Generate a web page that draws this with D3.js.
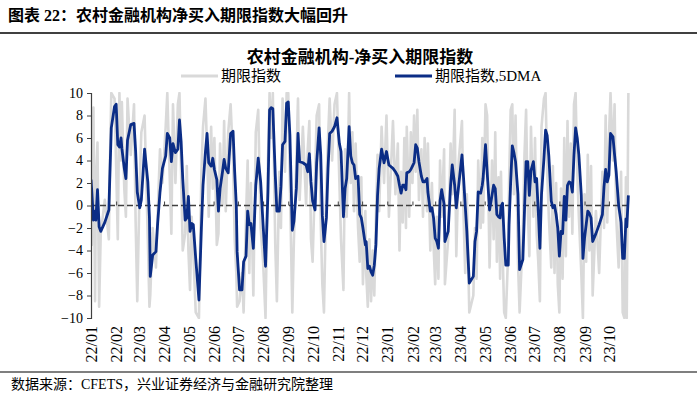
<!DOCTYPE html>
<html>
<head>
<meta charset="utf-8">
<script src="https://cdn.jsdelivr.net/npm/d3@7"></script>
<style>
  body { margin: 0; background: #fff; }
  text { font-family: "Liberation Serif", "Noto Sans CJK SC", serif; }
</style>
</head>
<body>
<svg id="chart" width="697" height="394"></svg>
<script>
// dates of the readings (yy-mm-dd), one line per month
var dates = [
  "22-01-01","22-01-02","22-01-04","22-01-06","22-01-07","22-01-09","22-01-11","22-01-13","22-01-18","22-01-23","22-01-24","22-01-26","22-01-30",
  "22-02-01","22-02-03","22-02-05","22-02-07","22-02-08","22-02-11","22-02-13","22-02-15","22-02-19","22-02-23","22-02-25","22-02-27",
  "22-03-02","22-03-04","22-03-08","22-03-12","22-03-14","22-03-15","22-03-18","22-03-22","22-03-24","22-03-27","22-03-30",
  "22-04-03","22-04-05","22-04-08","22-04-10","22-04-12","22-04-15","22-04-18","22-04-20","22-04-22","22-04-24","22-04-27","22-04-29",
  "22-05-01","22-05-03","22-05-05","22-05-07","22-05-10","22-05-14","22-05-17","22-05-19","22-05-22","22-05-24","22-05-26","22-05-29","22-05-31",
  "22-06-02","22-06-05","22-06-07","22-06-09","22-06-12","22-06-14","22-06-16","22-06-19","22-06-22","22-06-25","22-06-27","22-06-29","22-06-30",
  "22-07-03","22-07-06","22-07-08","22-07-11","22-07-13","22-07-15","22-07-17","22-07-20","22-07-23","22-07-26","22-07-29",
  "22-08-01","22-08-04","22-08-07","22-08-09","22-08-11","22-08-13","22-08-16","22-08-18","22-08-21","22-08-23","22-08-25","22-08-28","22-08-30",
  "22-09-01","22-09-03","22-09-06","22-09-08","22-09-11","22-09-13","22-09-15","22-09-19","22-09-23","22-09-25","22-09-27","22-09-29",
  "22-10-01","22-10-04","22-10-06","22-10-09","22-10-11","22-10-13","22-10-15","22-10-18","22-10-20","22-10-22","22-10-25","22-10-28","22-10-31",
  "22-11-03","22-11-05","22-11-08","22-11-10","22-11-12","22-11-15","22-11-17","22-11-19","22-11-21","22-11-23","22-11-26","22-11-28","22-11-30",
  "22-12-02","22-12-05","22-12-06","22-12-08","22-12-10","22-12-12","22-12-14","22-12-16","22-12-18","22-12-20","22-12-22","22-12-25","22-12-28","22-12-31",
  "23-01-03","23-01-08","23-01-11","23-01-14","23-01-16","23-01-18","23-01-20","23-01-22","23-01-24","23-01-25","23-01-28","23-01-30",
  "23-02-01","23-02-03","23-02-05","23-02-07","23-02-09","23-02-12","23-02-14","23-02-16","23-02-19","23-02-20","23-02-23","23-02-25","23-02-27",
  "23-03-01","23-03-03","23-03-05","23-03-07","23-03-09","23-03-12","23-03-13","23-03-17","23-03-20","23-03-22","23-03-25","23-03-27","23-03-30",
  "23-04-03","23-04-05","23-04-07","23-04-09","23-04-12","23-04-17","23-04-19","23-04-21","23-04-23","23-04-26","23-04-28","23-04-29",
  "23-05-02","23-05-04","23-05-07","23-05-10","23-05-12","23-05-14","23-05-16","23-05-18","23-05-20","23-05-21","23-05-23","23-05-25","23-05-27","23-05-30","23-05-31",
  "23-06-02","23-06-04","23-06-06","23-06-08","23-06-11","23-06-13","23-06-17","23-06-19","23-06-21","23-06-23","23-06-25","23-06-27","23-06-30",
  "23-07-02","23-07-04","23-07-06","23-07-08","23-07-10","23-07-13","23-07-15","23-07-17","23-07-19","23-07-22","23-07-24","23-07-26","23-07-28","23-07-30",
  "23-08-01","23-08-03","23-08-05","23-08-07","23-08-09","23-08-11","23-08-13","23-08-15","23-08-17","23-08-19","23-08-21","23-08-23","23-08-25","23-08-28","23-08-30",
  "23-09-01","23-09-03","23-09-05","23-09-07","23-09-09","23-09-11","23-09-15","23-09-19","23-09-23","23-09-25","23-09-27","23-09-29",
  "23-10-01","23-10-03","23-10-06","23-10-08","23-10-10","23-10-13","23-10-16","23-10-18","23-10-20","23-10-22","23-10-23","23-10-25"
];

// 期限指数 (raw, grey)
var termIndex = [
  5.2,-3.5,8.7,-8.5,2.0,5.6,-9.0,-2.5,0.5,-3.0,2.5,10,9.5,
  3.5,-3.0,10,4.0,9.2,1.5,-1.0,9.5,4.5,9.0,-1.5,-8.5,
  2.0,6.5,8.0,-3.0,-9.0,-8.0,-2.0,-5.5,-1.0,5.0,2.0,
  7.0,10,2.5,-2.5,9.0,2.0,9.0,10,3.0,-4.0,-2.5,3.5,
  -4.0,-7.5,-1.0,-4.0,-9.5,-10,3.0,7.0,9.5,5.0,-1.0,7.0,1.5,
  6.0,-3.5,-2.5,5.5,0.0,7.5,-0.5,6.5,9.0,4.0,-3.0,-6.0,-9.0,
  -8.5,-6.0,-9.5,-1.0,4.0,-6.0,2.0,-8.0,6.5,8.5,-2.0,
  -5.0,-10,4.0,10,6.0,10,-3.5,-8.5,3.0,-2.0,9.5,3.0,10,
  10,2.0,-9.5,-3.0,4.0,9.5,0.5,7.0,0.0,5.0,7.5,-3.0,
  -5.0,2.5,8.0,9.0,-1.5,-7.0,-9.5,2.0,6.0,9.5,4.0,9.0,10,
  2.0,-3.0,-7.5,5.0,-1.0,10,2.0,6.5,-0.5,5.5,-2.0,-5.0,2.5,
  -7.0,-0.5,-6.0,-9.0,-3.0,-8.5,-4.0,-8.0,-1.0,4.5,-0.5,7.0,2.0,8.0,
  -1.0,7.5,1.0,5.5,-4.0,3.0,-1.5,6.0,-2.0,7.0,-1.0,6.5,
  2.0,8.0,3.0,8.5,0.5,5.0,-1.0,6.0,-0.5,5.5,-4.0,2.0,-3.5,
  -7.0,-1.0,-6.5,4.0,-1.0,5.0,-7.0,-3.0,5.5,1.0,8.5,-4.5,4.0,
  7.5,-1.0,-6.0,1.0,-9.5,-8.0,-2.0,-6.5,4.0,-2.0,6.0,-1.5,
  9.0,8.0,-5.5,4.0,-3.0,6.5,-5.0,2.5,-6.5,3.0,-4.0,-9.5,-10,-4.0,2.0,
  8.5,9.0,1.0,8.0,-5.0,-9.5,-2.5,4.5,8.5,0.0,-4.5,7.0,-1.0,
  6.0,-2.5,-5.0,-8.5,7.0,9.5,10,3.0,-1.0,-5.5,3.5,-6.0,2.0,-7.0,
  -9.5,1.5,-6.5,6.0,-4.5,7.5,-1.0,5.5,-2.5,9.0,10,3.0,-1.0,-6.0,-10,
  1.0,-5.0,4.5,-4.0,3.5,-8.0,-0.5,-6.0,3.0,-2.0,8.0,-1.5,
  6.0,10,4.0,9.0,-1.0,-5.5,3.0,-9.5,-10,2.5,-10,10
];

// 期限指数,5DMA (navy)
var termIndexMA = [
  2.3,1.2,-1.3,-0.5,-1.3,1.4,-1.9,-2.3,-1.5,-0.4,2.1,6.9,8.8,
  9.0,5.4,5.2,6.0,5.1,3.3,2.4,5.8,7.2,7.3,4.8,1.2,
  -0.2,0.5,5.0,2.1,-1.1,-6.3,-4.4,-4.1,-1.7,1.2,3.3,
  4.4,6.4,6.0,3.9,5.5,4.7,5.0,7.6,5.7,2.4,-1.3,-1.1,
  0.8,-2.3,-1.6,-1.7,-4.7,-8.4,-2.0,1.8,4.8,6.4,3.8,3.5,4.2,
  3.2,2.3,-0.5,1.5,3.0,4.1,3.3,2.9,6.4,6.6,3.0,0.0,-4.1,
  -7.5,-7.5,-5.0,-4.5,-0.5,-1.7,-1.6,-3.8,1.8,4.2,2.1,
  -1.7,-5.4,1.2,8.5,8.7,8.6,2.7,-0.5,-0.5,1.7,5.4,5.7,9.1,
  9.2,6.3,-2.2,-1.4,1.5,6.4,3.9,3.8,3.6,3.0,4.6,2.1,
  0.4,-0.4,3.8,6.9,4.5,-0.9,-3.2,-1.1,3.3,6.4,6.6,7.0,7.8,
  5.5,4.8,-1.0,1.5,2.4,7.0,4.4,3.8,3.6,2.4,2.6,-0.8,-1.1,
  -2.0,-3.5,-3.2,-5.6,-5.4,-5.9,-6.2,-5.3,-3.5,0.9,3.3,5.0,3.8,4.8,
  3.6,3.3,3.0,2.6,1.8,1.1,1.8,1.8,1.4,2.9,3.0,3.2,
  3.5,3.8,5.4,5.1,3.9,2.6,2.1,2.1,2.4,1.2,-0.5,-0.2,-1.1,
  -2.9,-3.2,-3.8,0.4,1.4,0.1,-3.2,-2.3,1.8,3.6,1.8,-0.2,1.8,
  4.5,2.4,0.0,-2.3,-6.9,-6.3,-3.2,-2.3,1.2,1.1,1.8,2.4,
  5.4,3.0,-0.4,0.9,1.8,1.5,-0.8,-1.0,-1.1,-0.1,0.2,-2.9,-5.3,-5.3,-1.7,
  2.1,5.3,4.7,3.9,1.0,-5.7,-4.8,-0.5,3.9,3.9,0.9,3.1,3.9,
  2.1,2.4,-0.5,-3.8,1.0,4.2,6.7,6.2,4.4,0.4,-0.2,0.0,-0.8,-2.0,
  -4.5,-2.3,-2.5,0.8,-1.3,1.8,2.1,2.0,1.2,4.5,6.9,6.0,4.5,0.9,-4.7,
  -2.9,-1.7,-0.5,-0.7,-1.1,-3.2,-2.5,-1.7,-0.8,1.7,3.2,2.1,
  2.7,6.4,6.1,4.5,3.0,0.0,-1.5,-4.7,-4.7,-1.2,-1.9,0.9
];

var yTicks = [-10, -8, -6, -4, -2, 0, 2, 4, 6, 8, 10];
var seriesNames = ["期限指数", "期限指数,5DMA"];
var chartTitle = "农村金融机构-净买入期限指数";
var figTitle = "图表 22：农村金融机构净买入期限指数大幅回升";
var source = "数据来源：CFETS，兴业证券经济与金融研究院整理";

(function () {
  var parse = d3.timeParse("%y-%m-%d");
  var rows = dates.map(function (d, i) {
    return { date: parse(d), raw: termIndex[i], ma: termIndexMA[i] };
  });

  var svg = d3.select("#chart");
  var plotL = 91, plotR = 630, plotT = 93, plotB = 318;

  var x = d3.scaleTime()
    .domain([parse("22-01-01"), parse("23-10-27")])
    .range([plotL, plotR]);
  var y = d3.scaleLinear().domain([-10, 10]).range([plotB, plotT]);

  svg.append("rect").attr("width", 697).attr("height", 394).attr("fill", "#fff");

  // figure header
  svg.append("text")
    .attr("x", 8).attr("y", 21)
    .attr("font-size", 16).attr("font-weight", "bold")
    .text(figTitle);
  svg.append("line")
    .attr("x1", 0).attr("x2", 697).attr("y1", 33).attr("y2", 33)
    .attr("stroke", "#000").attr("stroke-width", 1.5);

  // chart title
  svg.append("text")
    .attr("x", 360).attr("y", 63)
    .attr("text-anchor", "middle")
    .attr("font-size", 17).attr("font-weight", "bold")
    .text(chartTitle);

  // legend
  var legend = [
    { name: seriesNames[0], color: "#d9d9d9", x: 181 },
    { name: seriesNames[1], color: "#0b2d86", x: 395 }
  ];
  var lg = svg.append("g").selectAll("g").data(legend).enter().append("g")
    .attr("transform", function (d) { return "translate(" + d.x + ",76)"; });
  lg.append("line")
    .attr("x1", 0).attr("x2", 37)
    .attr("stroke", function (d) { return d.color; })
    .attr("stroke-width", 3);
  lg.append("text")
    .attr("x", 40).attr("dy", "0.35em")
    .attr("font-size", 15)
    .text(function (d) { return d.name; });

  svg.append("clipPath").attr("id", "plot")
    .append("rect").attr("x", plotL).attr("y", plotT - 1)
    .attr("width", plotR - plotL + 2).attr("height", plotB - plotT + 2);

  var line = function (key) {
    return d3.line()
      .x(function (d) { return x(d.date); })
      .y(function (d) { return y(d[key]); });
  };

  svg.append("path")
    .datum(rows)
    .attr("clip-path", "url(#plot)")
    .attr("fill", "none")
    .attr("stroke", "#d9d9d9")
    .attr("stroke-width", 2.6)
    .attr("stroke-linejoin", "round")
    .attr("d", line("raw"));

  // zero line with month ticks
  svg.append("line")
    .attr("x1", plotL).attr("x2", plotR)
    .attr("y1", y(0)).attr("y2", y(0))
    .attr("stroke", "#404040").attr("stroke-width", 1.5)
    .attr("stroke-dasharray", "6,3");

  var months = d3.timeMonth.range(parse("22-01-01"), parse("23-10-27"));

  svg.append("g")
    .attr("transform", "translate(0," + y(0) + ")")
    .call(d3.axisTop(x).tickValues(months).tickSize(4).tickFormat(""))
    .call(function (g) { g.select(".domain").remove(); })
    .selectAll("line").attr("stroke", "#404040");

  svg.append("path")
    .datum(rows)
    .attr("clip-path", "url(#plot)")
    .attr("fill", "none")
    .attr("stroke", "#0b2d86")
    .attr("stroke-width", 2.8)
    .attr("stroke-linejoin", "round")
    .attr("d", line("ma"));

  // y axis
  var yAxis = svg.append("g")
    .attr("transform", "translate(" + plotL + ",0)")
    .call(d3.axisLeft(y).tickValues(yTicks).tickSize(4).tickPadding(4));
  yAxis.select(".domain").attr("stroke", "#404040").attr("stroke-width", 1.2);
  yAxis.selectAll("line").attr("stroke", "#404040");
  yAxis.selectAll("text")
    .attr("font-size", 14)
    .attr("fill", "#000")
    .style("font-family", "'Liberation Serif', serif");

  // month labels under the plot
  var xAxis = svg.append("g")
    .attr("transform", "translate(0," + plotB + ")")
    .call(d3.axisBottom(x).tickValues(months).tickSize(0).tickFormat(d3.timeFormat("%y/%m")));
  xAxis.select(".domain").remove();
  xAxis.selectAll("text")
    .attr("transform", "rotate(-90)")
    .attr("x", -8).attr("y", 0).attr("dy", "0.35em")
    .attr("text-anchor", "end")
    .attr("font-size", 16)
    .attr("fill", "#000")
    .style("font-family", "'Liberation Serif', serif");

  // source
  svg.append("line")
    .attr("x1", 0).attr("x2", 697).attr("y1", 372).attr("y2", 372)
    .attr("stroke", "#000").attr("stroke-width", 1.2);
  svg.append("text")
    .attr("x", 11).attr("y", 389)
    .attr("font-size", 14)
    .text(source);
})();
</script>
</body>
</html>
